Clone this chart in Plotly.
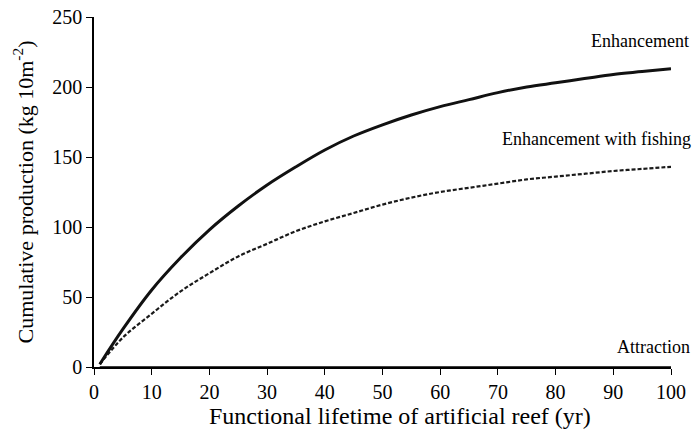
import plotly.graph_objects as go

years = [1, 5, 10, 15, 20, 25, 30, 35, 40, 45, 50, 55, 60, 65, 70, 75, 80, 85, 90, 95, 100]
enhancement = [2, 27, 55, 78, 98, 115, 130, 143, 155, 165, 173, 180, 186, 191, 196, 200, 203, 206, 209, 211, 213]
enh_fishing = [2, 21, 38, 54, 67, 79, 88, 97, 104, 110, 116, 121, 125, 128, 131, 134, 136, 138, 140, 141.5, 143]
attraction = [0] * len(years)

x_ticks = [0, 10, 20, 30, 40, 50, 60, 70, 80, 90, 100]
y_ticks = [0, 50, 100, 150, 200, 250]

FONT = "Liberation Serif"

fig = go.Figure()
fig.add_trace(go.Scatter(x=years, y=attraction, mode="lines",
                         line=dict(color="black", width=1.5), line_shape="spline"))
fig.add_trace(go.Scatter(x=years, y=enh_fishing, mode="lines",
                         line=dict(color="#1a1a1a", width=2.2, dash="4px,2px"), line_shape="spline"))
fig.add_trace(go.Scatter(x=years, y=enhancement, mode="lines",
                         line=dict(color="#111111", width=3), line_shape="spline"))

ann_font = dict(family=FONT, size=18, color="black")
fig.add_annotation(x=1.034, y=233 / 250, xref="paper", yref="paper", text="Enhancement",
                   showarrow=False, xanchor="right", yanchor="middle", font=ann_font)
fig.add_annotation(x=1.038, y=163 / 250, xref="paper", yref="paper", text="Enhancement with fishing",
                   showarrow=False, xanchor="right", yanchor="middle", font=ann_font)
fig.add_annotation(x=1.036, y=14 / 250, xref="paper", yref="paper", text="Attraction",
                   showarrow=False, xanchor="right", yanchor="middle", font=ann_font)
fig.add_annotation(x=0.530, y=-0.097, xref="paper", yref="paper",
                   text="Functional lifetime of artificial reef (yr)",
                   showarrow=False, xanchor="center", yanchor="top",
                   font=dict(family=FONT, size=24, color="black"))

# page body has an 8px default margin, so the figure is sized to fit inside 700x430
fig.update_layout(
    width=692, height=422,
    margin=dict(l=86, r=29, t=9, b=63),
    paper_bgcolor="white", plot_bgcolor="white",
    showlegend=False,
    font=dict(family=FONT, size=20, color="black"),
    xaxis=dict(range=[0, 100], tickvals=x_ticks, showgrid=False, zeroline=False,
               automargin=False, ticklabeloverflow="allow",
               showline=True, linecolor="black", linewidth=1.5,
               ticks="outside", ticklen=6, tickwidth=1.2, tickcolor="black",
               tickfont=dict(family=FONT, size=20)),
    yaxis=dict(range=[0, 250], tickvals=y_ticks, showgrid=False, zeroline=False,
               automargin=False, ticklabeloverflow="allow",
               showline=True, linecolor="black", linewidth=1.5,
               ticks="outside", ticklen=6, tickwidth=1.2, tickcolor="black",
               tickfont=dict(family=FONT, size=20),
               title=dict(text="Cumulative production (kg 10m<sup>-2</sup>)",
                          font=dict(family=FONT, size=22), standoff=13)),
)

fig.write_html("out.html")
